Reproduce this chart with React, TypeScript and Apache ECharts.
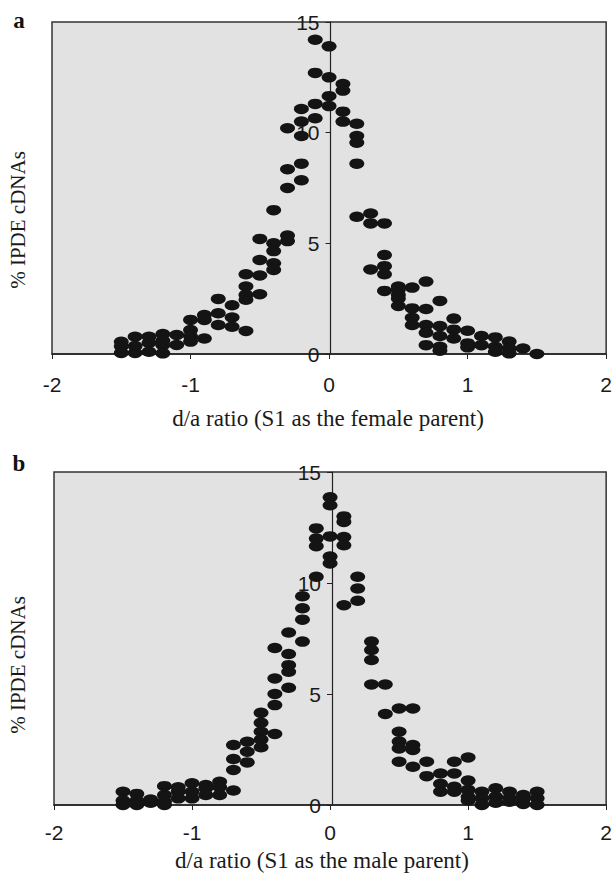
import React, { useEffect, useRef } from "react";
import * as echarts from "echarts";

// Tick values
const xTicks = [-2, -1, 0, 1, 2];
const yTicks = [0, 5, 10, 15];

// Text
const panelLetters = ["a", "b"];
const xAxisTitles = [
  "d/a ratio (S1 as the female parent)",
  "d/a ratio (S1 as the male parent)",
];
const yAxisTitle = "% IPDE cDNAs";

// Panel a: S1 as the female parent  [d/a ratio, % IPDE cDNAs]
const femaleParentPoints: [number, number][] = [
  [-1.5, 0.55], [-1.5, 0.35], [-1.5, 0.05],
  [-1.4, 0.78], [-1.4, 0.36], [-1.4, 0.05],
  [-1.3, 0.78], [-1.3, 0.5], [-1.3, 0.1],
  [-1.2, 0.9], [-1.2, 0.6], [-1.2, 0.4], [-1.2, 0.03],
  [-1.1, 0.86], [-1.1, 0.41],
  [-1.0, 1.54], [-1.0, 1.08], [-1.0, 0.8], [-1.0, 0.56],
  [-0.9, 1.76], [-0.9, 1.54], [-0.9, 0.7],
  [-0.8, 2.49], [-0.8, 1.84], [-0.8, 1.31],
  [-0.7, 2.2], [-0.7, 1.65], [-0.7, 1.23],
  [-0.6, 3.6], [-0.6, 3.05], [-0.6, 2.67], [-0.6, 2.45], [-0.6, 1.04],
  [-0.5, 5.2], [-0.5, 4.25], [-0.5, 3.55], [-0.5, 2.7],
  [-0.4, 6.5], [-0.4, 5.0], [-0.4, 4.65], [-0.4, 4.1], [-0.4, 3.8],
  [-0.3, 10.2], [-0.3, 8.35], [-0.3, 7.5], [-0.3, 5.35], [-0.3, 5.1],
  [-0.2, 11.07], [-0.2, 10.5], [-0.2, 9.85], [-0.2, 8.6], [-0.2, 7.85],
  [-0.1, 14.2], [-0.1, 12.7], [-0.1, 11.3], [-0.1, 10.65],
  [0.0, 13.9], [0.0, 12.5], [0.0, 11.65], [0.0, 11.2],
  [0.1, 12.2], [0.1, 11.9], [0.1, 10.95], [0.1, 10.5],
  [0.2, 10.4], [0.2, 9.85], [0.2, 9.55], [0.2, 8.6], [0.2, 6.2],
  [0.3, 6.35], [0.3, 5.9], [0.3, 3.82],
  [0.4, 5.9], [0.4, 4.47], [0.4, 3.97], [0.4, 3.6], [0.4, 2.85],
  [0.5, 3.05], [0.5, 2.9], [0.5, 2.67], [0.5, 2.5], [0.5, 2.17],
  [0.6, 3.0], [0.6, 2.06], [0.6, 1.64], [0.6, 1.31],
  [0.7, 3.27], [0.7, 2.03], [0.7, 1.31], [0.7, 0.96], [0.7, 0.4],
  [0.8, 2.4], [0.8, 1.26], [0.8, 0.81], [0.8, 0.33], [0.8, 0.15],
  [0.9, 1.6], [0.9, 1.1], [0.9, 0.7],
  [1.0, 1.05], [1.0, 0.48], [1.0, 0.3],
  [1.1, 0.81], [1.1, 0.4],
  [1.2, 0.75], [1.2, 0.33], [1.2, 0.1],
  [1.3, 0.56], [1.3, 0.25], [1.3, 0.03],
  [1.4, 0.25],
  [1.5, 0.0],
];

// Panel b: S1 as the male parent  [d/a ratio, % IPDE cDNAs]
const maleParentPoints: [number, number][] = [
  [-1.5, 0.6], [-1.5, 0.2], [-1.5, 0.0],
  [-1.4, 0.5], [-1.4, 0.2], [-1.4, 0.0],
  [-1.3, 0.25], [-1.3, 0.1],
  [-1.2, 0.85], [-1.2, 0.45], [-1.2, 0.15], [-1.2, 0.0],
  [-1.1, 0.8], [-1.1, 0.6], [-1.1, 0.3],
  [-1.0, 0.98], [-1.0, 0.6], [-1.0, 0.3],
  [-0.9, 0.9], [-0.9, 0.75], [-0.9, 0.45],
  [-0.8, 1.05], [-0.8, 0.8], [-0.8, 0.45],
  [-0.7, 2.7], [-0.7, 2.07], [-0.7, 1.58], [-0.7, 0.65],
  [-0.6, 2.85], [-0.6, 2.4], [-0.6, 1.92],
  [-0.5, 4.15], [-0.5, 3.7], [-0.5, 3.3], [-0.5, 2.95], [-0.5, 2.6],
  [-0.4, 7.07], [-0.4, 5.7], [-0.4, 5.0], [-0.4, 4.5], [-0.4, 3.2],
  [-0.3, 7.77], [-0.3, 6.8], [-0.3, 6.3], [-0.3, 6.0], [-0.3, 5.28],
  [-0.2, 9.4], [-0.2, 8.86], [-0.2, 8.35], [-0.2, 7.36],
  [-0.1, 12.46], [-0.1, 12.0], [-0.1, 11.66], [-0.1, 10.28],
  [0.0, 13.86], [0.0, 13.5], [0.0, 12.1], [0.0, 11.19], [0.0, 10.88],
  [0.1, 13.0], [0.1, 12.75], [0.1, 12.07], [0.1, 11.7], [0.1, 9.0],
  [0.2, 10.28], [0.2, 9.75], [0.2, 9.2],
  [0.3, 7.36], [0.3, 6.98], [0.3, 6.53], [0.3, 5.43],
  [0.4, 5.43], [0.4, 4.1],
  [0.5, 4.35], [0.5, 3.3], [0.5, 2.86], [0.5, 2.55], [0.5, 1.95],
  [0.6, 4.35], [0.6, 2.7], [0.6, 2.48], [0.6, 1.72],
  [0.7, 1.95], [0.7, 1.3],
  [0.8, 1.42], [0.8, 0.95], [0.8, 0.6],
  [0.9, 1.95], [0.9, 1.42], [0.9, 0.82], [0.9, 0.6],
  [1.0, 2.14], [1.0, 1.1], [1.0, 0.68], [1.0, 0.37], [1.0, 0.2],
  [1.1, 0.6], [1.1, 0.3], [1.1, 0.0],
  [1.2, 0.75], [1.2, 0.37], [1.2, 0.1],
  [1.3, 0.6], [1.3, 0.3], [1.3, 0.15],
  [1.4, 0.45], [1.4, 0.3], [1.4, 0.05],
  [1.5, 0.6], [1.5, 0.3], [1.5, 0.0],
];

const SANS = "'Liberation Sans', Arial, sans-serif";
const SERIF = "'Liberation Serif', 'Times New Roman', serif";

const grids = [
  { left: 52, top: 22, width: 557, height: 332 },
  { left: 54, top: 472, width: 556, height: 333 },
];

function makeXAxis(gridIndex: number, labelMargin: number) {
  return {
    type: "value",
    gridIndex,
    min: xTicks[0],
    max: xTicks[xTicks.length - 1],
    interval: 1,
    axisLine: { show: true, onZero: false, lineStyle: { color: "#222", width: 1.5 } },
    axisTick: { show: true, inside: false, length: 5, lineStyle: { color: "#222", width: 1 } },
    axisLabel: { show: true, margin: labelMargin, fontFamily: SANS, fontSize: 21, color: "#1a1a1a" },
    splitLine: { show: false },
  };
}

// the vertical axis sits in the middle of the plot (at d/a = 0)
function makeYAxis(gridIndex: number) {
  const g = grids[gridIndex];
  return {
    type: "value",
    gridIndex,
    position: "left",
    offset: -g.width / 2,
    min: yTicks[0],
    max: yTicks[yTicks.length - 1],
    interval: 5,
    axisLine: { show: true, onZero: false, lineStyle: { color: "#222", width: 1.2 } },
    axisTick: { show: true, inside: false, length: 5, lineStyle: { color: "#222", width: 1 } },
    axisLabel: { show: true, margin: 11, fontFamily: SANS, fontSize: 21, color: "#1a1a1a" },
    splitLine: { show: false },
  };
}

export default function App() {
  const ref = useRef<HTMLDivElement>(null);

  useEffect(() => {
    if (!ref.current) return;
    const chart = echarts.init(ref.current, undefined, { renderer: "svg" });
    const pointStyle = { color: "#141414", opacity: 1 };
    chart.setOption({
      animation: false,
      backgroundColor: "#ffffff",
      grid: grids.map((g) => ({
        ...g,
        show: true,
        backgroundColor: "#e2e2e2",
        borderColor: "#333",
        borderWidth: 1.5,
        containLabel: false,
      })),
      xAxis: [makeXAxis(0, 20), makeXAxis(1, 17)],
      yAxis: [makeYAxis(0), makeYAxis(1)],
      series: [
        {
          type: "scatter",
          xAxisIndex: 0,
          yAxisIndex: 0,
          data: femaleParentPoints,
          symbol: "circle",
          symbolSize: [15, 10.5],
          itemStyle: pointStyle,
          clip: false,
          silent: true,
        },
        {
          type: "scatter",
          xAxisIndex: 1,
          yAxisIndex: 1,
          data: maleParentPoints,
          symbol: "circle",
          symbolSize: [15, 10.5],
          itemStyle: pointStyle,
          clip: false,
          silent: true,
        },
      ],
      graphic: [
        {
          type: "text",
          x: 19,
          y: 20,
          style: {
            text: panelLetters[0],
            font: `bold 23px ${SERIF}`,
            fill: "#111",
            textAlign: "center",
            textVerticalAlign: "middle",
          },
        },
        {
          type: "text",
          x: 19,
          y: 463,
          style: {
            text: panelLetters[1],
            font: `bold 23px ${SERIF}`,
            fill: "#111",
            textAlign: "center",
            textVerticalAlign: "middle",
          },
        },
        {
          type: "text",
          x: 328,
          y: 418,
          style: {
            text: xAxisTitles[0],
            font: `23px ${SERIF}`,
            fill: "#1a1a1a",
            textAlign: "center",
            textVerticalAlign: "middle",
          },
        },
        {
          type: "text",
          x: 322,
          y: 860,
          style: {
            text: xAxisTitles[1],
            font: `23px ${SERIF}`,
            fill: "#1a1a1a",
            textAlign: "center",
            textVerticalAlign: "middle",
          },
        },
        {
          type: "text",
          x: 18,
          y: 220,
          rotation: Math.PI / 2,
          style: {
            text: yAxisTitle,
            font: `21px ${SERIF}`,
            fill: "#1a1a1a",
            textAlign: "center",
            textVerticalAlign: "middle",
          },
        },
        {
          type: "text",
          x: 18,
          y: 665,
          rotation: Math.PI / 2,
          style: {
            text: yAxisTitle,
            font: `21px ${SERIF}`,
            fill: "#1a1a1a",
            textAlign: "center",
            textVerticalAlign: "middle",
          },
        },
      ],
    });
    return () => chart.dispose();
  }, []);

  return (
    <div
      ref={ref}
      style={{ position: "fixed", left: 0, top: 0, width: 615, height: 875, background: "#fff" }}
    />
  );
}
